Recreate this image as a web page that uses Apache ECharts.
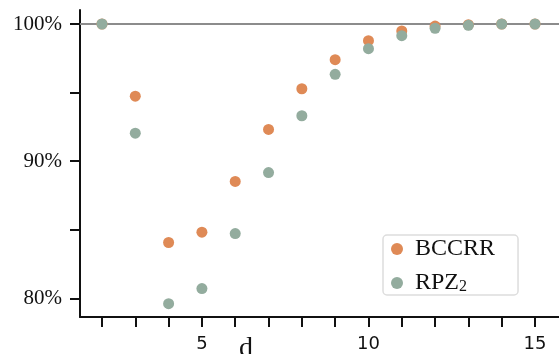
<!DOCTYPE html>
<html>
<head>
<meta charset="utf-8">
<script src="https://cdn.jsdelivr.net/npm/echarts@6/dist/echarts.min.js"></script>
<style>
  html, body { margin: 0; padding: 0; background: #fff; }
  #chart { width: 559px; height: 354px; }
</style>
</head>
<body>
<div id="chart"></div>
<script>
// values
const dValues = [2, 3, 4, 5, 6, 7, 8, 9, 10, 11, 12, 13, 14, 15];
const bccrr = [100, 94.74, 84.07, 84.82, 88.52, 92.31, 95.28, 97.4, 98.78, 99.49, 99.85, 99.95, 100, 100];
const rpz2 = [100, 92.04, 79.61, 80.71, 84.72, 89.17, 93.31, 96.33, 98.2, 99.15, 99.69, 99.9, 100, 100];
const xTicks = [2, 3, 4, 5, 6, 7, 8, 9, 10, 11, 12, 13, 14, 15];
const xLabels = [5, 10, 15];
const yTicks = [80, 85, 90, 95, 100];
const yLabels = [80, 90, 100];

const orange = '#df8a56';
const green = '#93ac9e';

const chart = echarts.init(document.getElementById('chart'));

const pairs = (ys) => dValues.map((d, i) => [d, ys[i]]);

const option = {
  animation: false,
  grid: { left: 80, right: 0, top: 10, bottom: 37, containLabel: false, outerBoundsMode: 'none' },
  legend: {
    orient: 'vertical',
    left: 383,
    top: 235,
    padding: [2, 23, 0, 8],
    itemGap: 10,
    itemWidth: 12,
    itemHeight: 12,
    borderColor: '#dddddd',
    borderWidth: 1.5,
    borderRadius: 4,
    backgroundColor: '#fff',
    textStyle: {
      fontFamily: 'Liberation Serif',
      fontSize: 24,
      lineHeight: 24,
      color: '#111',
      padding: [0, 0, 0, 7],
      rich: {
        sub: { fontFamily: 'Liberation Serif', fontSize: 16, color: '#111', verticalAlign: 'bottom', padding: [14, 0, 0, 0] }
      }
    },
    formatter: (name) => name === 'RPZ2' ? 'RPZ{sub|2}' : name,
    data: ['BCCRR', 'RPZ2']
  },
  xAxis: {
    type: 'value',
    min: 1.34,
    max: 15.72,
    name: 'd',
    nameLocation: 'middle',
    nameGap: 18,
    nameMoveOverlap: false,
    nameTextStyle: {
      fontFamily: 'Liberation Serif',
      fontSize: 28,
      color: '#111',
      verticalAlign: 'top',
      padding: [0, 147, 0, 0]
    },
    axisLine: { lineStyle: { color: '#111', width: 2 } },
    axisTick: { customValues: xTicks, length: 10, lineStyle: { color: '#111', width: 2 } },
    axisLabel: {
      customValues: xLabels,
      margin: 18,
      fontFamily: 'DejaVu Sans',
      fontSize: 18,
      color: '#111'
    },
    splitLine: { show: false }
  },
  yAxis: {
    type: 'value',
    min: 78.64,
    max: 101.02,
    axisLine: { show: true, lineStyle: { color: '#111', width: 2 } },
    axisTick: { show: true, customValues: yTicks, length: 10, lineStyle: { color: '#111', width: 2 } },
    axisLabel: {
      customValues: yLabels,
      margin: 18,
      fontFamily: 'Liberation Serif',
      fontSize: 21,
      color: '#111',
      formatter: (v) => v + '%'
    },
    splitLine: { show: false }
  },
  series: [
    {
      name: 'BCCRR',
      type: 'scatter',
      symbolSize: 11,
      itemStyle: { color: orange, opacity: 1 },
      data: pairs(bccrr),
      z: 3,
      markLine: {
        silent: true,
        symbol: 'none',
        label: { show: false },
        lineStyle: { color: '#8c8c8c', width: 2, type: 'solid' },
        data: [{ yAxis: 100 }],
        z: 1
      }
    },
    {
      name: 'RPZ2',
      type: 'scatter',
      symbolSize: 11,
      itemStyle: { color: green, opacity: 1 },
      data: pairs(rpz2),
      z: 4
    }
  ]
};

chart.setOption(option);
</script>
</body>
</html>
